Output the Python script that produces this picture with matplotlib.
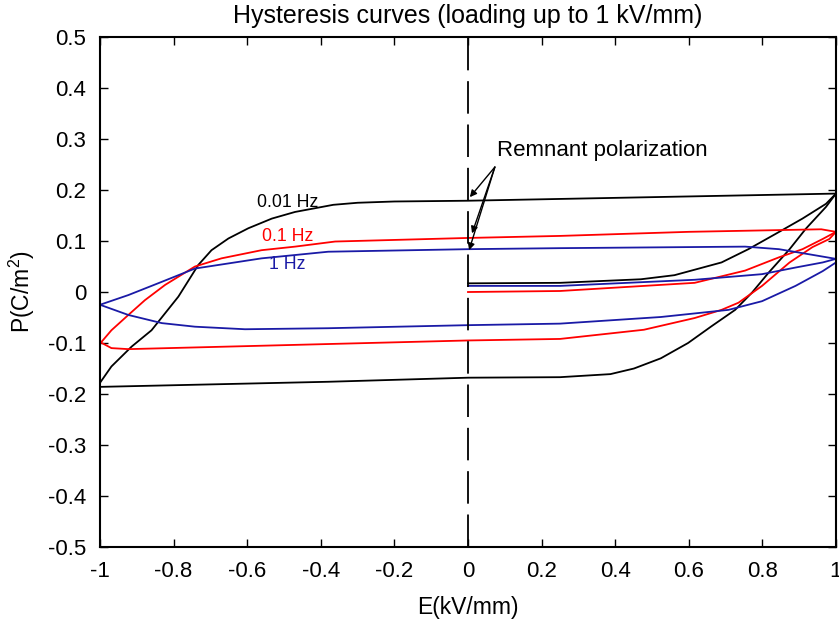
import matplotlib
matplotlib.use("Agg")
import matplotlib.pyplot as plt

plt.rcParams['font.family'] = ['Liberation Sans', 'DejaVu Sans']
plt.rcParams['mathtext.default'] = 'regular'

# 0.01 Hz (negro)
e_001_ini = [0, 0.25, 0.47, 0.561, 0.689, 0.762, 0.836, 0.909, 0.973, 1.0]
p_001_ini = [0.017, 0.018, 0.025, 0.033, 0.058, 0.084, 0.114, 0.144, 0.173, 0.193]
e_001_sup = [1.0, 0.5, 0.0, -0.2, -0.3, -0.366, -0.47, -0.533, -0.597, -0.651, -0.697, -0.733,
             -0.787, -0.86, -0.914, -0.969, -1.0]
p_001_sup = [0.193, 0.186, 0.179, 0.1775, 0.175, 0.171, 0.157, 0.144, 0.125, 0.105, 0.082, 0.053,
             -0.009, -0.075, -0.107, -0.146, -0.178]
e_001_inf = [-1.0, -0.38, 0.0, 0.25, 0.387, 0.451, 0.524, 0.598, 0.662, 0.726, 0.772,
             0.817, 0.874, 0.918, 0.973, 1.0]
p_001_inf = [-0.186, -0.176, -0.168, -0.167, -0.161, -0.15, -0.13, -0.1, -0.067, -0.035, -0.001,
             0.038, 0.084, 0.124, 0.167, 0.193]

# 0.1 Hz (rojo)
e_01_ini = [0, 0.25, 0.616, 0.753, 0.845, 0.909, 0.964, 1.0]
p_01_ini = [0.0, 0.002, 0.018, 0.042, 0.068, 0.084, 0.104, 0.118]
e_01_sup = [1.0, 0.96, 0.6, 0.25, 0.0, -0.361, -0.47, -0.561, -0.67, -0.742, -0.823, -0.878,
            -0.923, -0.969, -0.995, -1.0]
p_01_sup = [0.118, 0.123, 0.118, 0.11, 0.106, 0.099, 0.089, 0.082, 0.066, 0.05, 0.014, -0.016,
            -0.045, -0.075, -0.097, -0.098]
e_01_inf = [-1.0, -0.969, -0.923, -0.651, -0.38, 0.0, 0.25, 0.478, 0.616, 0.689, 0.735, 0.799,
            0.874, 0.936, 0.982, 1.0]
p_01_inf = [-0.098, -0.11, -0.112, -0.107, -0.102, -0.095, -0.092, -0.074, -0.051, -0.035, -0.021, 0.012,
            0.058, 0.088, 0.104, 0.118]

# 1 Hz (azul)
e_1_ini = [0, 0.25, 0.616, 0.799, 0.89, 0.964, 1.0]
p_1_ini = [0.012, 0.012, 0.024, 0.035, 0.048, 0.058, 0.065]
e_1_sup = [1.0, 0.927, 0.845, 0.753, 0.25, 0.0, -0.38, -0.561, -0.742, -0.832, -0.923, -1.0]
p_1_sup = [0.065, 0.074, 0.084, 0.089, 0.086, 0.084, 0.079, 0.066, 0.046, 0.02, -0.006, -0.025]
e_1_inf = [-1.0, -0.923, -0.832, -0.742, -0.606, -0.38, 0.0, 0.25, 0.524, 0.708, 0.799, 0.89, 0.964, 1.0]
p_1_inf = [-0.025, -0.045, -0.061, -0.068, -0.073, -0.071, -0.065, -0.062, -0.049, -0.035, -0.018, 0.012, 0.041, 0.058]

xticks = [-1, -0.8, -0.6, -0.4, -0.2, 0, 0.2, 0.4, 0.6, 0.8, 1]
xtick_labels = ['-1', '-0.8', '-0.6', '-0.4', '-0.2', '0', '0.2', '0.4', '0.6', '0.8', '1']
yticks = [-0.5, -0.4, -0.3, -0.2, -0.1, 0, 0.1, 0.2, 0.3, 0.4, 0.5]
ytick_labels = ['-0.5', '-0.4', '-0.3', '-0.2', '-0.1', '0', '0.1', '0.2', '0.3', '0.4', '0.5']

fig = plt.figure(figsize=(8.39, 6.19), dpi=100)
ax = fig.add_axes([0.1192, 0.1163, 0.8772, 0.8239])

azul = '#1a1aa6'
lw = 1.3
ax.plot(e_001_ini, p_001_ini, color='black', lw=lw)
ax.plot(e_001_sup, p_001_sup, color='black', lw=lw)
ax.plot(e_001_inf, p_001_inf, color='black', lw=lw)
ax.plot(e_01_ini, p_01_ini, color='red', lw=lw)
ax.plot(e_01_sup, p_01_sup, color='red', lw=lw)
ax.plot(e_01_inf, p_01_inf, color='red', lw=lw)
ax.plot(e_1_ini, p_1_ini, color=azul, lw=lw)
ax.plot(e_1_sup, p_1_sup, color=azul, lw=lw)
ax.plot(e_1_inf, p_1_inf, color=azul, lw=lw)

# linea discontinua en E=0
ax.axvline(0, color='black', lw=1.3, dashes=(18, 6))

ax.text(-0.49, 0.176, '0.01 Hz', color='black', fontsize=12.7, ha='center', va='center')
ax.text(-0.49, 0.108, '0.1 Hz', color='red', fontsize=12.7, ha='center', va='center')
ax.text(-0.49, 0.053, '1 Hz', color=azul, fontsize=12.7, ha='center', va='center')

ax.text(0.079, 0.278, 'Remnant polarization', fontsize=16, ha='left', va='center')
for tip in [(0.005, 0.186), (0.011, 0.115), (0.003, 0.082)]:
    ax.annotate('', xy=tip, xytext=(0.073, 0.245),
                arrowprops=dict(arrowstyle='-|>', color='black', lw=1.0,
                                mutation_scale=10, shrinkA=0, shrinkB=0))

ax.set_xlim(-1, 1)
ax.set_ylim(-0.5, 0.5)
ax.set_xticks(xticks)
ax.set_xticklabels(xtick_labels)
ax.set_yticks(yticks)
ax.set_yticklabels(ytick_labels)
ax.tick_params(direction='in', top=True, right=True, length=6, width=1, labelsize=16, pad=10)
for s in ax.spines.values():
    s.set_linewidth(1.5)

ax.set_title('Hysteresis curves (loading up to 1 kV/mm)', fontsize=18, pad=10)
ax.set_xlabel('E(kV/mm)', fontsize=16.5, labelpad=10)
ax.set_ylabel('P(C/m$^2$)', fontsize=16.5, labelpad=8)

fig.savefig('out.png', dpi=100)
